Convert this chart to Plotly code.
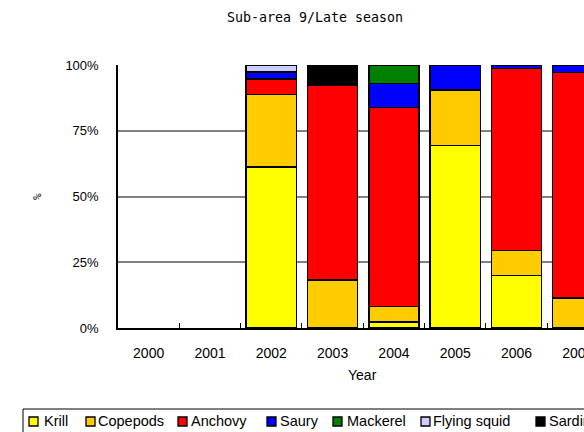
import plotly.graph_objects as go

# Diet composition (% of stomach content) by year; None = prey not found
years = ["2000", "2001", "2002", "2003", "2004", "2005", "2006", "2007"]
krill = [None, None, 61.2, None, 2.3, 69.3, 19.9, None]
copepods = [None, None, 27.5, 18.3, 5.8, 21.2, 9.5, 11.4]
anchovy = [None, None, 5.9, 74.1, 75.8, None, 69.3, 85.8]
saury = [None, None, 2.7, None, 9.1, 9.5, 1.3, 2.8]
mackerel = [None, None, None, None, 7.0, None, None, None]
flying_squid = [None, None, 2.7, None, None, None, None, None]
sardine = [None, None, None, 7.6, None, None, None, None]

y_ticks = [0, 25, 50, 75, 100]
y_tick_labels = ["0%", "25%", "50%", "75%", "100%"]

series = [
    ("Krill", krill, "#FFFF00"),
    ("Copepods", copepods, "#FFCC00"),
    ("Anchovy", anchovy, "#FF0000"),
    ("Saury", saury, "#0000FF"),
    ("Mackerel", mackerel, "#008000"),
    ("Flying squid", flying_squid, "#CCCCFF"),
    ("Sardine", sardine, "#000000"),
]

W, H = 584, 432
L, R, T, B = 118, 0, 65, 104
PW, PH = W - L - R, H - T - B

def px(x):
    return (x - L) / PW

def py(y):
    return (H - B - y) / PH

fig = go.Figure()
for name, vals, color in series:
    fig.add_trace(go.Bar(
        x=years, y=vals, name=name,
        marker=dict(color=color, line=dict(color="#000000", width=1.5)),
        showlegend=False,
    ))

label_font = dict(family="Liberation Sans, Arial, sans-serif", color="#000000")

fig.update_layout(
    width=W, height=H,
    margin=dict(l=L, r=R, t=T, b=B, autoexpand=False),
    paper_bgcolor="white", plot_bgcolor="white",
    barmode="stack", bargap=0.18,
    title=dict(text="Sub-area 9/Late season", x=315 / W, xanchor="center",
               y=1 - 17 / H, yanchor="middle",
               font=dict(family="DejaVu Sans Mono, monospace", size=13.3, color="#000000")),
    xaxis=dict(
        type="category", range=[-0.5, 7.1], automargin=False,
        showline=True, linecolor="#000000", linewidth=1.5,
        ticks="inside", tickson="boundaries", ticklen=5, tickcolor="#000000",
        tickfont=dict(size=14, **label_font), ticklabelstandoff=11,
        showgrid=False,
    ),
    yaxis=dict(
        range=[0, 100], tickvals=y_ticks, ticktext=y_tick_labels, automargin=False,
        showline=True, linecolor="#000000", linewidth=1.5,
        showgrid=True, gridcolor="#808080", gridwidth=1.5,
        zeroline=False, ticks="",
        tickfont=dict(size=13, **label_font), ticklabelstandoff=15,
    ),
    showlegend=False,
)

annotations = [
    dict(text="Year", x=px(362.5), y=py(375), xref="paper", yref="paper",
         showarrow=False, xanchor="center", yanchor="middle",
         font=dict(size=14, **label_font)),
    dict(text="%", x=px(37), y=py(197), xref="paper", yref="paper",
         showarrow=False, xanchor="center", yanchor="middle", textangle=-90,
         font=dict(family="DejaVu Sans Mono, monospace", size=11, color="#000000")),
]

# Legend row drawn below the chart
shapes = [dict(type="rect", xref="paper", yref="paper",
               x0=px(23), x1=px(640), y0=py(409), y1=py(445),
               line=dict(color="#000000", width=1), fillcolor="rgba(0,0,0,0)")]
legend_box_x = [29, 86, 178, 267, 333, 421, 536]
legend_text_x = [42, 96, 189, 278, 345, 431, 547]
for (name, _, color), bx, tx in zip(series, legend_box_x, legend_text_x):
    shapes.append(dict(type="rect", xref="paper", yref="paper",
                       x0=px(bx), x1=px(bx + 9), y0=py(417), y1=py(426),
                       line=dict(color="#000000", width=1.3), fillcolor=color))
    annotations.append(dict(text=name, x=px(tx), y=py(421.5),
                            xref="paper", yref="paper", showarrow=False,
                            xanchor="left", yanchor="middle",
                            font=dict(size=14.5, **label_font)))

fig.update_layout(shapes=shapes, annotations=annotations)
fig.write_html("out.html")
